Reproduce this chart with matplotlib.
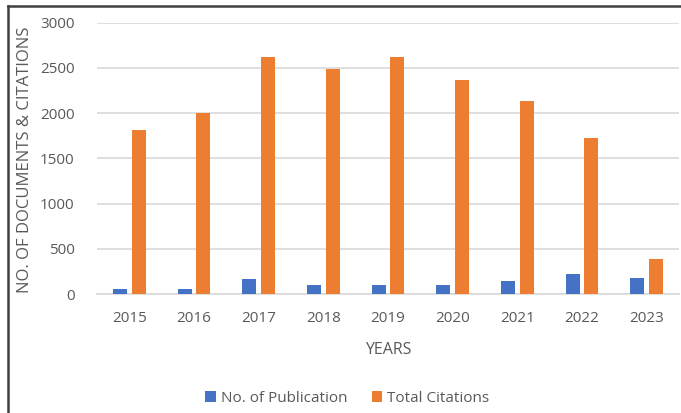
import numpy as np
import matplotlib
matplotlib.use("Agg")
import matplotlib.pyplot as plt

# Datos
years = ["2015", "2016", "2017", "2018", "2019", "2020", "2021", "2022", "2023"]
publications = [55, 55, 162, 99, 99, 99, 140, 224, 176]
citations = [1809, 2000, 2618, 2493, 2618, 2368, 2129, 1728, 382]

BLUE = "#4472C4"
ORANGE = "#ED7D31"
TEXT = "#595959"

plt.rcParams["font.family"] = ["Open Sans", "DejaVu Sans"]

fig = plt.figure(figsize=(6.81, 4.13), dpi=100)
ax = fig.add_axes([97 / 681, 1 - 294 / 413, 582 / 681, (294 - 22.7) / 413])

x = np.arange(len(years))
w = 0.22
ax.bar(x - 0.145, publications, w, color=BLUE, label="No. of Publication", zorder=3)
ax.bar(x + 0.145, citations, w, color=ORANGE, label="Total Citations", zorder=3)

ax.set_xlim(-0.5, len(years) - 0.5)
ax.set_ylim(0, 3000)
ax.set_yticks(range(0, 3001, 500))
ax.set_xticks(x)
ax.set_xticklabels(years)
ax.grid(axis="y", color="#d9d9d9", linewidth=1.2, zorder=0)
for s in ["top", "right", "left"]:
    ax.spines[s].set_visible(False)
ax.spines["bottom"].set_color("#d9d9d9")
ax.spines["bottom"].set_linewidth(1.2)
ax.tick_params(axis="both", length=0, labelsize=11, colors=TEXT)
ax.tick_params(axis="y", pad=16)
ax.tick_params(axis="x", pad=12)

ax.set_xlabel("YEARS", fontsize=11.5, color=TEXT, labelpad=12)
fig.text(25 / 681, 1 - 160 / 413, "NO. OF DOCUMENTS & CITATIONS", rotation=90,
         ha="center", va="center", fontsize=12, color=TEXT)

fig.legend(loc="center", bbox_to_anchor=(0.51, 1 - 398 / 413), ncol=2, frameon=False,
           fontsize=11, labelcolor=TEXT, handlelength=0.7, handleheight=0.7,
           handletextpad=0.3, columnspacing=1.6)

# marco exterior (solo izquierda y arriba visibles en el recorte)
fig.add_artist(plt.Line2D([8 / 681, 8 / 681], [0, 1 - 6 / 413], transform=fig.transFigure,
                          color="#404040", linewidth=1.8))
fig.add_artist(plt.Line2D([8 / 681, 1], [1 - 6 / 413, 1 - 6 / 413], transform=fig.transFigure,
                          color="#404040", linewidth=1.8))

fig.savefig("out.png", dpi=100)
